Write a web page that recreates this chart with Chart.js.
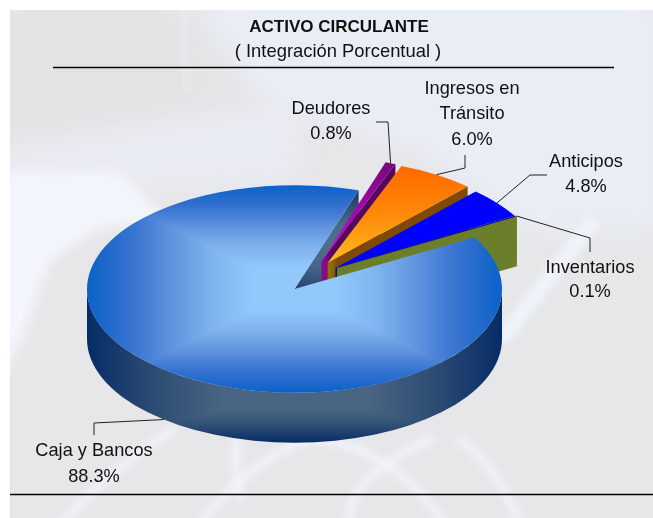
<!DOCTYPE html>
<html><head><meta charset="utf-8">
<script src="https://cdn.jsdelivr.net/npm/chart.js@4"></script>
<style>html,body{margin:0;padding:0;background:#fff}canvas{display:block}</style>
</head><body>
<canvas id="c" width="653" height="518"></canvas>
<script>
// ---- data ----
const categories = ['Deudores', 'Ingresos en Tránsito', 'Anticipos', 'Inventarios', 'Caja y Bancos'];
const values = [0.8, 6.0, 4.8, 0.1, 88.3];
const labelLines = [['Deudores', '0.8%'], ['Ingresos en', 'Tránsito', '6.0%'], ['Anticipos', '4.8%'], ['Inventarios', '0.1%'], ['Caja y Bancos', '88.3%']];
const titleText = 'ACTIVO CIRCULANTE';
const subtitleText = '( Integración Porcentual )';

// ---- style ----
const FONT = '"Liberation Sans", Arial, sans-serif';
const SQUASH = 0.5, DEPTH = 100, RADIUS = 207.5, ROTATION = 18;
const sliceShift = [[27, -56], [33, -52], [41, -42], [42.5, -42], [0, 0]];
const labelPos = [[331, [109, 134]], [472, [89, 114, 140]], [586, [162, 187]], [590, [268, 292]], [94, [451, 477]]];
const leaders = [[[376, 122], [388, 122]], [[465, 155], [465, 168]], [[547, 175], [530, 175]], [[590, 252], [590, 238]], [[94, 435], [94, 423]]];
const CY = 289, CX = 294.5;
const sy = y => CY + (y - CY) / SQUASH; // picture y -> unsquashed y

function hex(c) { return [1, 3, 5].map(i => parseInt(c.substr(i, 2), 16)); }
function ramp(stops, t) {
  t = Math.min(1, Math.max(0, t));
  for (let i = 1; i < stops.length; i++) if (t <= stops[i][0]) {
    const a = stops[i - 1], b = stops[i], k = (t - a[0]) / (b[0] - a[0]), A = hex(a[1]), B = hex(b[1]);
    return A.map((v, j) => v + (B[j] - v) * k);
  }
  return hex(stops[stops.length - 1][1]);
}
// box-shaped shading, built in the pie's unsquashed space
function boxPattern(ctx, tOf, stops) {
  const w = 653, h = 640, off = document.createElement('canvas');
  off.width = w; off.height = h;
  const o = off.getContext('2d'), im = o.createImageData(w, h);
  for (let y = 0; y < h; y++) for (let x = 0; x < w; x++) {
    const c = ramp(stops, tOf(x + .5, y + .5)), p = (y * w + x) * 4;
    im.data[p] = c[0]; im.data[p + 1] = c[1]; im.data[p + 2] = c[2]; im.data[p + 3] = 255;
  }
  o.putImageData(im, 0, 0);
  return ctx.createPattern(off, 'no-repeat');
}
let topPat = null, rimPat = null;
function topFill(c) {
  const g = c.chart.ctx, i = c.dataIndex;
  if (i === 0) { const l = g.createLinearGradient(0, sy(165), 0, sy(262)); l.addColorStop(0, '#7a0880'); l.addColorStop(.55, '#a808b0'); l.addColorStop(1, '#e010e0'); return l; }
  if (i === 1) { const l = g.createLinearGradient(0, sy(170), 0, sy(262)); l.addColorStop(0, '#ff6c00'); l.addColorStop(.5, '#ff8a0a'); l.addColorStop(1, '#fcbc20'); return l; }
  if (i === 2) return '#0000ff';
  if (i === 3) return '#101080';
  if (!topPat) topPat = boxPattern(g, (x, y) => Math.max(Math.abs(x - CX), Math.abs(y - CY)) / RADIUS,
    [[0, '#93c8fd'], [.2, '#93c8fd'], [.4, '#80b3ef'], [.57, '#6596e0'], [.79, '#3672d0'], [1, '#0a62c8']]);
  return topPat;
}

function squash(ctx, cy) { ctx.translate(0, cy); ctx.scale(1, SQUASH); ctx.translate(0, -cy); }

const pie3d = {
  id: 'pie3d',
  beforeDraw(chart) {
    const g = chart.ctx;
    g.save();
    g.fillStyle = '#fff'; g.fillRect(0, 0, 653, 518);
    g.beginPath(); g.rect(10, 10, 643, 508); g.clip();
    g.fillStyle = '#e7e7e9'; g.fillRect(10, 10, 643, 508);
    g.filter = 'blur(12px)';
    g.fillStyle = '#e9edf6';
    g.beginPath(); g.moveTo(190, 0); g.lineTo(660, 0); g.lineTo(660, 230); g.lineTo(530, 230); g.lineTo(420, 150); g.lineTo(270, 110); g.closePath(); g.fill();
    g.fillStyle = '#e3e3e4';
    g.beginPath(); g.moveTo(0, 0); g.lineTo(170, 0); g.lineTo(230, 95); g.lineTo(0, 140); g.closePath(); g.fill();
    g.fillStyle = '#e9ebf2';
    g.beginPath(); g.moveTo(0, 150); g.lineTo(300, 100); g.lineTo(300, 180); g.lineTo(0, 200); g.closePath(); g.fill();
    g.filter = 'blur(6px)';
    g.fillStyle = '#f2f5fb';
    g.beginPath(); g.moveTo(0, 172); g.lineTo(120, 172); g.lineTo(170, 222); g.lineTo(100, 228); g.lineTo(50, 262); g.lineTo(22, 340); g.lineTo(0, 380); g.closePath(); g.fill();
    g.filter = 'blur(3px)';
    g.lineCap = 'round';
    g.strokeStyle = 'rgba(240,244,251,.9)'; g.lineWidth = 16;
    g.beginPath(); g.moveTo(590, 225); g.lineTo(505, 335); g.stroke();
    g.strokeStyle = 'rgba(240,244,251,.35)'; g.lineWidth = 8;
    g.beginPath(); g.moveTo(183, 10); g.lineTo(187, 90); g.stroke();
    g.strokeStyle = 'rgba(243,246,252,.65)'; g.lineWidth = 10;
    [[[237, 436], [234, 470], [240, 498]], [[305, 440], [250, 460], [195, 530]], [[290, 438], [385, 435], [445, 525]], [[350, 530], [340, 480], [430, 440]], [[60, 525], [110, 470], [172, 430]], [[460, 440], [500, 470], [520, 525]]].forEach(p => {
      g.beginPath(); g.moveTo(p[0][0], p[0][1]); g.quadraticCurveTo(p[1][0], p[1][1], p[2][0], p[2][1]); g.stroke();
    });
    g.restore();
  },
  afterDatasetUpdate(chart) {
    chart.getDatasetMeta(0).data.forEach((el, i) => { el.x += sliceShift[i][0]; el.y += sliceShift[i][1]; });
  },
  beforeDatasetsDraw(chart) {
    const g = chart.ctx, arcs = chart.getDatasetMeta(0).data, cy = (chart.chartArea.top + chart.chartArea.bottom) / 2;
    g.save(); squash(g, cy);
    const wall = (el, fill) => {
      const ex = el.x + el.outerRadius * Math.cos(el.endAngle), ey = el.y + el.outerRadius * Math.sin(el.endAngle);
      g.beginPath(); g.moveTo(el.x, el.y); g.lineTo(ex, ey); g.lineTo(ex, ey + DEPTH); g.lineTo(el.x, el.y + DEPTH); g.closePath();
      g.fillStyle = fill; g.fill();
    };
    // the big slice's cut face sits behind the small slices
    const big = arcs[4];
    const cut = g.createRadialGradient(335, sy(245), 0, 335, sy(245), 112);
    cut.addColorStop(0, '#4f6f8c'); cut.addColorStop(.4, '#47688a'); cut.addColorStop(1, '#193763');
    wall(big, cut);
    const face = (el, from, to) => { const l = g.createLinearGradient(el.x + 4, 0, el.x + 10, 0); l.addColorStop(0, from); l.addColorStop(1, to); return l; };
    wall(arcs[0], face(arcs[0], '#8b0a8a', '#55085c'));
    wall(arcs[1], face(arcs[1], '#8c6c0c', '#7e4a04'));
    wall(arcs[2], '#0a0a80');
    wall(arcs[3], '#6b7f2a');
    // outer rim of the big slice
    g.beginPath(); g.arc(big.x, big.y, big.outerRadius, 0, Math.PI); g.arc(big.x, big.y + DEPTH, big.outerRadius, Math.PI, 0, true); g.closePath();
    if (!rimPat) rimPat = boxPattern(g, (x, y) => {
      const py = CY + (y - CY) * SQUASH;
      return Math.max(Math.abs(x - CX) / RADIUS, (py - 393) / 50);
    }, [[0, '#4a6583'], [.35, '#4a6583'], [.7, '#2a4a72'], [1, '#062c66']]);
    g.fillStyle = rimPat; g.fill();
    g.restore();
  },
  beforeDatasetDraw(chart) {
    const g = chart.ctx, cy = (chart.chartArea.top + chart.chartArea.bottom) / 2;
    g.save(); squash(g, cy);
  },
  afterDatasetDraw(chart) { chart.ctx.restore(); },
  afterDraw(chart) {
    const g = chart.ctx, arcs = chart.getDatasetMeta(0).data, cy = (chart.chartArea.top + chart.chartArea.bottom) / 2;
    g.save();
    // rules
    g.strokeStyle = '#000'; g.lineWidth = 1.5;
    g.beginPath(); g.moveTo(53, 67.5); g.lineTo(614, 67.5); g.moveTo(10, 494.5); g.lineTo(653, 494.5); g.stroke();
    // leaders from each slice's outer edge
    g.lineWidth = 1; g.strokeStyle = '#222';
    arcs.forEach((el, i) => {
      const mid = (el.startAngle + el.endAngle) / 2;
      const ax = el.x + el.outerRadius * Math.cos(mid);
      const ay = cy + (el.y + el.outerRadius * Math.sin(mid) - cy) * SQUASH + (i === 4 ? DEPTH * SQUASH : 0);
      g.beginPath(); g.moveTo(leaders[i][0][0], leaders[i][0][1]); g.lineTo(leaders[i][1][0], leaders[i][1][1]); g.lineTo(ax, ay); g.stroke();
    });
    // text
    g.fillStyle = '#111'; g.textAlign = 'center'; g.textBaseline = 'middle';
    g.font = 'bold 17px ' + FONT; g.fillText(titleText, 339, 27.5);
    g.font = '18.4px ' + FONT; g.fillText(subtitleText, 338, 51.5);
    g.font = '18.2px ' + FONT;
    labelLines.forEach((lines, i) => lines.forEach((t, j) => g.fillText(t, labelPos[i][0], labelPos[i][1][j])));
    g.restore();
  }
};

new Chart(document.getElementById('c'), {
  type: 'pie',
  data: { labels: categories, datasets: [{ data: values, backgroundColor: topFill, borderWidth: 0, clip: false }] },
  options: {
    responsive: false, animation: false, rotation: ROTATION, radius: RADIUS,
    layout: { padding: { top: 60, right: 64 } },
    plugins: { legend: { display: false }, tooltip: { enabled: false } }
  },
  plugins: [pie3d]
});
</script>
</body></html>
